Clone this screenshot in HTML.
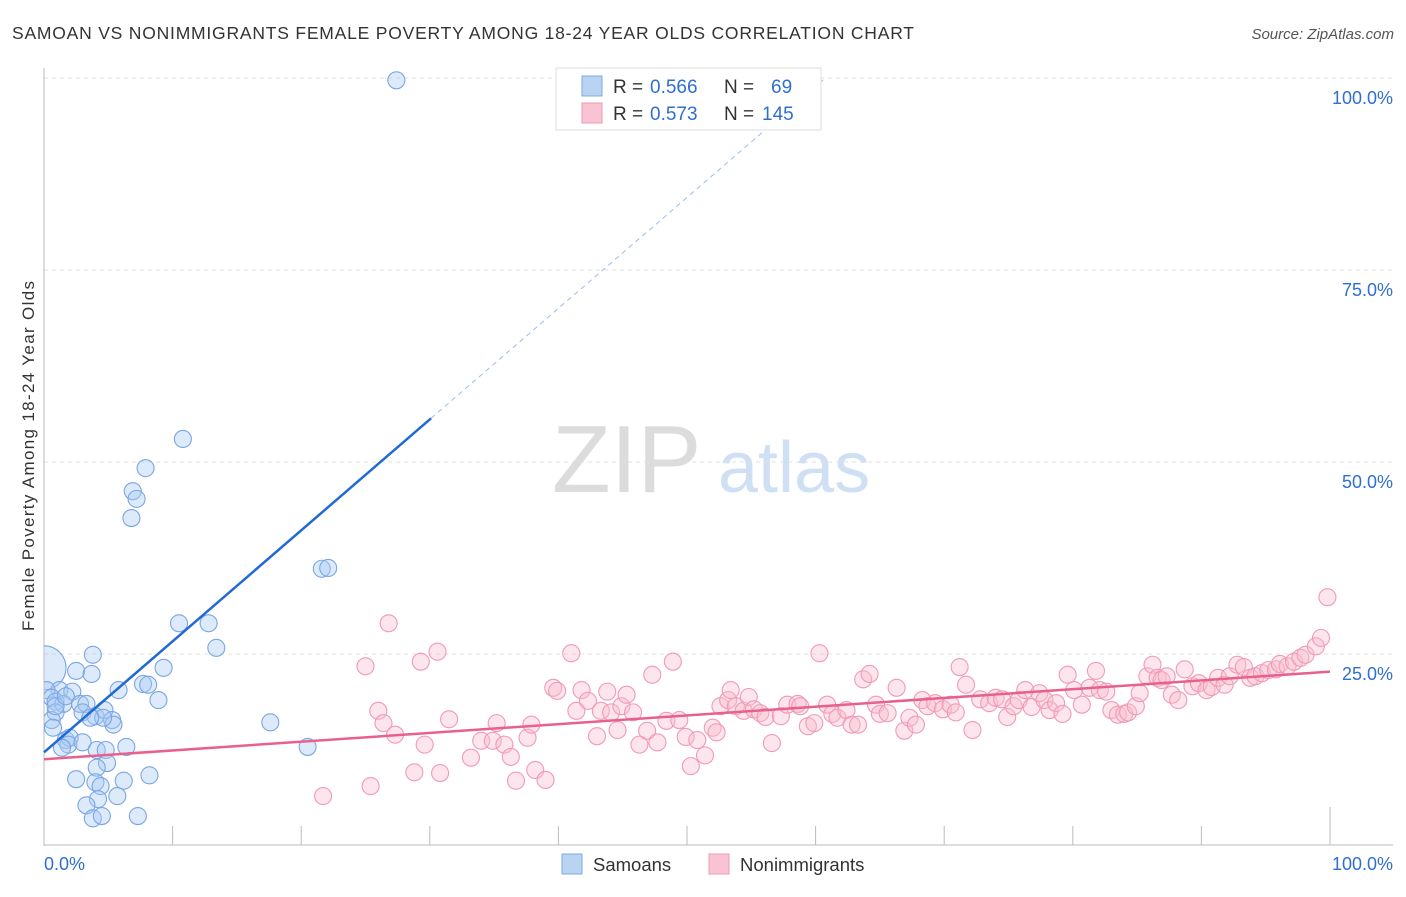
<!DOCTYPE html>
<html><head><meta charset="utf-8"><style>
body{margin:0;background:#fff;font-family:"Liberation Sans",sans-serif}
svg text{font-family:"Liberation Sans",sans-serif}
</style></head><body>
<svg width="1406" height="892" viewBox="0 0 1406 892" xmlns="http://www.w3.org/2000/svg">
<defs><clipPath id="plot"><rect x="44" y="60" width="1360" height="786"/></clipPath></defs>
<text x="12" y="39" font-size="17.5" fill="#333" textLength="902" lengthAdjust="spacing">SAMOAN VS NONIMMIGRANTS FEMALE POVERTY AMONG 18-24 YEAR OLDS CORRELATION CHART</text>
<text x="1394" y="39" font-size="15" fill="#555" font-style="italic" text-anchor="end">Source: ZipAtlas.com</text>
<text x="0" y="0" transform="translate(34,456) rotate(-90)" font-size="17" fill="#333" text-anchor="middle" textLength="350" lengthAdjust="spacing">Female Poverty Among 18-24 Year Olds</text>
<g>
<text x="552" y="492" font-family="Liberation Serif" font-size="96" fill="#dcdcdc">ZIP</text>
<text x="718" y="492" font-size="72" fill="#cfe0f4">atlas</text>
</g>
<g id="grid"></g>
<g id="axes"></g>
<g id="blue" clip-path="url(#plot)"></g>
<g id="pink" clip-path="url(#plot)"></g>
<g id="lines"></g>
<g>
<rect x="556" y="68" width="265" height="62" fill="#fff" stroke="#ddd"/>
<rect x="582" y="76" width="20" height="20" fill="#b9d3f3" stroke="#7fa8e0"/>
<rect x="582" y="103" width="20" height="20" fill="#f9c3d3" stroke="#ef9ab4"/>
<text y="93" font-size="19" fill="#333"><tspan x="613">R =</tspan><tspan x="650" fill="#2f6fd1">0.566</tspan><tspan x="724">N =</tspan><tspan x="771" fill="#2f6fd1">69</tspan></text>
<text y="120" font-size="19" fill="#333"><tspan x="613">R =</tspan><tspan x="650" fill="#2f6fd1">0.573</tspan><tspan x="724">N =</tspan><tspan x="762" fill="#2f6fd1">145</tspan></text>
</g>
<g>
<rect x="562" y="854" width="20" height="20" fill="#b9d3f3" stroke="#7fa8e0"/>
<text x="593" y="871" font-size="18.5" fill="#333">Samoans</text>
<rect x="709" y="854" width="20" height="20" fill="#f9c3d3" stroke="#ef9ab4"/>
<text x="740" y="871" font-size="18.5" fill="#333">Nonimmigrants</text>
</g>
</svg>
<script>
const yTicks=[25,50,75,100];
const yTickLabels=["25.0%","50.0%","75.0%","100.0%"];
const xTickVals=[10,20,30,40,50,60,70,80,90,100];
const blueX=[27.4,10.8,7.9,6.9,7.2,6.8,21.6,22.1,10.5,12.8,13.4,3.8,9.3,2.5,3.7,0,7.7,8.1,5.8,8.9,1.2,2.2,0.2,0.6,0.9,1.5,2.8,3.3,3.0,4.0,4.7,5.3,5.4,4.6,17.6,0.9,0.6,0.7,1.7,2.0,1.9,1.4,3.0,6.4,4.1,4.8,20.5,4.9,4.1,2.5,4.0,6.2,8.2,4.4,4.2,5.7,3.3,3.8,4.5,7.3,0.9,1.7,3.6];
const blueY=[99.7,53.0,49.2,46.2,45.2,42.7,36.1,36.2,29.0,29.0,25.8,24.9,23.2,22.8,22.4,23.2,21.1,21.0,20.3,19.0,20.3,20.1,20.3,19.3,18.8,18.5,18.5,18.5,17.4,16.9,17.7,16.4,15.8,16.7,16.1,17.4,16.4,15.4,13.8,14.1,13.2,12.8,13.5,12.9,12.5,12.5,12.9,10.8,10.2,8.7,8.3,8.5,9.2,7.8,6.1,6.5,5.3,3.6,3.9,3.9,18.2,19.5,16.7];
const pinkX=[21.7,25.4,25.0,26.0,26.4,26.8,27.3,29.3,28.8,29.6,30.6,30.8,31.5,33.2,34.0,34.9,35.2,35.8,36.3,36.7,37.6,37.9,38.2,39.0,39.6,39.9,41.0,41.4,41.8,42.3,43.0,43.3,43.8,44.1,44.6,44.9,45.3,45.8,46.3,46.9,47.3,47.7,48.4,48.9,49.4,49.9,50.3,50.8,51.4,52.0,52.3,52.6,53.2,53.4,53.8,54.4,54.8,55.2,55.7,56.1,56.6,57.3,57.8,58.6,58.8,59.4,59.9,60.3,60.9,61.3,61.7,62.4,62.8,63.3,63.7,64.2,64.7,65.0,65.6,66.3,66.9,67.3,67.8,68.3,68.7,69.3,69.9,70.5,70.9,71.2,71.7,72.2,72.8,73.5,74.0,74.5,74.9,75.4,75.8,76.3,76.8,77.4,77.8,78.2,78.7,79.2,79.6,80.1,80.7,81.3,81.8,82.1,82.6,83.0,83.5,84.0,84.3,84.9,85.2,85.8,86.2,86.6,86.9,87.3,87.7,88.2,88.7,89.3,89.8,90.4,90.8,91.3,91.8,92.2,92.8,93.3,93.8,94.2,94.7,95.2,95.8,96.1,96.7,97.2,97.7,98.1,98.9,99.3,99.8];
const pinkY=[6.5,7.8,23.4,17.6,16.0,29.0,14.5,24.0,9.6,13.2,25.3,9.5,16.5,11.5,13.7,13.7,16.0,13.2,11.6,8.5,14.1,15.8,9.9,8.6,20.6,20.2,25.1,17.6,20.3,18.9,14.3,17.6,20.1,17.4,15.1,18.2,19.7,17.4,13.2,15.0,22.3,13.5,16.3,24.0,16.4,14.2,10.4,13.8,11.8,15.4,14.8,18.2,19.0,20.3,18.2,17.6,19.4,17.8,17.3,16.8,13.4,16.9,18.4,18.5,18.2,15.6,16.0,25.1,18.4,17.2,16.7,17.7,15.8,15.8,21.7,22.4,18.4,17.2,17.3,20.6,15.0,16.7,15.8,19.0,18.2,18.6,17.8,18.4,17.4,23.3,21.0,15.1,19.1,18.6,19.3,19.1,16.8,18.2,19.0,20.3,18.1,19.9,19.0,17.7,18.6,17.2,22.3,20.3,18.4,20.6,22.8,20.3,20.1,17.7,17.1,17.2,17.4,18.2,19.9,22.1,23.6,21.9,21.6,22.1,19.7,19.0,23.0,20.8,21.2,20.3,20.7,21.9,21.0,22.1,23.6,23.3,21.9,22.1,22.5,22.9,23.0,23.7,23.4,24.0,24.5,24.9,26.0,27.1,32.4];
const blueTrend=[12.2,1.445];
const pinkTrend=[11.3,0.114];
const NS="http://www.w3.org/2000/svg";
const X=v=>44+v*12.86, Y=v=>846-v*7.68;
function mk(t,a,p){const e=document.createElementNS(NS,t);for(const k in a)e.setAttribute(k,a[k]);p.appendChild(e);return e;}
const grid=document.getElementById('grid'),axes=document.getElementById('axes');
yTicks.forEach((v,i)=>{
 const l=mk('line',{x1:44,x2:1393,y1:Y(v),y2:Y(v),stroke:'#e0e0e0','stroke-dasharray':'4,4'},grid);
 
 
 const t=mk('text',{x:1393,y:Y(v)+26,'font-size':18,fill:'#2f6fd1','text-anchor':'end'},axes);
 t.textContent=yTickLabels[i];
 
 
});
mk('line',{x1:44,x2:44,y1:68,y2:846,stroke:'#bbb'},axes);
mk('line',{x1:44,x2:1393,y1:845,y2:845,stroke:'#bbb'},axes);
xTickVals.forEach(v=>{
 const l=mk('line',{x1:X(v),x2:X(v),y1:v==100?807:826,y2:845,stroke:'#bbb'},axes);
 
 
});
let t0=mk('text',{x:44,y:870,'font-size':18,fill:'#2f6fd1'},axes);t0.textContent='0.0%';


let t1=mk('text',{x:1393,y:870,'font-size':18,fill:'#2f6fd1','text-anchor':'end'},axes);t1.textContent='100.0%';


const bg=document.getElementById('blue'),pg=document.getElementById('pink');
blueX.forEach((v,i)=>{
 const c=mk('circle',{cx:X(v),cy:Y(blueY[i]),r:(v==0?22:8.5),fill:'rgba(170,202,242,0.4)',stroke:'#79a6e4','stroke-width':1.1},bg);
 
 
});
pinkX.forEach((v,i)=>{
 const c=mk('circle',{cx:X(v),cy:Y(pinkY[i]),r:8.5,fill:'rgba(248,190,208,0.4)',stroke:'#f19ab5','stroke-width':1.1},pg);
 
 
});
const lg=document.getElementById('lines');
const bEnd=30.1, bTop=(100-blueTrend[0])/blueTrend[1];
let bl=mk('line',{x1:X(0),y1:Y(blueTrend[0]),x2:X(bEnd),y2:Y(blueTrend[0]+blueTrend[1]*bEnd),stroke:'#2169d6','stroke-width':2.5},lg);


let bd=mk('line',{x1:X(bEnd),y1:Y(blueTrend[0]+blueTrend[1]*bEnd),x2:X(bTop),y2:Y(100),stroke:'#9dbce8','stroke-width':1,'stroke-dasharray':'5,4'},lg);


let pl=mk('line',{x1:X(0),y1:Y(pinkTrend[0]),x2:X(100),y2:Y(pinkTrend[0]+pinkTrend[1]*100),stroke:'#e8608c','stroke-width':2.5},lg);


</script>
</body></html>
